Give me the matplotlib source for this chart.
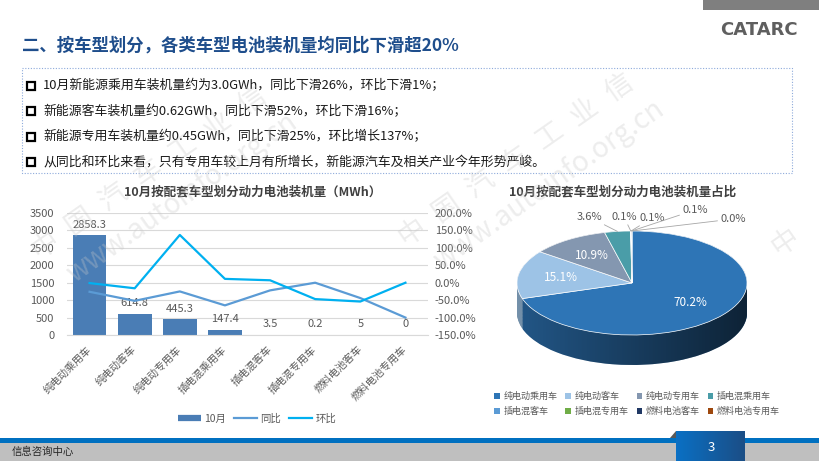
import numpy as np
import matplotlib
matplotlib.use('Agg')
import matplotlib.pyplot as plt
from matplotlib.patches import Rectangle, Polygon, Patch, PathPatch
from matplotlib.lines import Line2D
from matplotlib.path import Path
from matplotlib.colors import to_rgb

plt.rcParams['font.family'] = ['Noto Sans CJK SC', 'DejaVu Sans']

W, H = 820, 461

# data
categories = ['纯电动乘用车', '纯电动客车', '纯电动专用车', '插电混乘用车',
              '插电混客车', '插电混专用车', '燃料电池客车', '燃料电池专用车']
volume = [2858.3, 614.8, 445.3, 147.4, 3.5, 0.2, 5, 0]
volume_labels = ['2858.3', '614.8', '445.3', '147.4', '3.5', '0.2', '5', '0']
yoy = [-26, -52, -25, -65, -22, 0, -44, -100]
mom = [-1, -16, 137, 11, 7, -47, -54, 0]
share_labels = ['70.2%', '15.1%', '10.9%', '3.6%', '0.1%', '0.1%', '0.1%', '0.0%']
pie_colors = ['#2E75B6', '#9DC3E6', '#8497B0', '#4A9DA8',
              '#5B9BD5', '#70AD47', '#203864', '#9E480E']

title = '二、按车型划分，各类车型电池装机量均同比下滑超20%'
bullets = ['10月新能源乘用车装机量约为3.0GWh，同比下滑26%，环比下滑1%；',
           '新能源客车装机量约0.62GWh，同比下滑52%，环比下滑16%；',
           '新能源专用车装机量约0.45GWh，同比下滑25%，环比增长137%；',
           '从同比和环比来看，只有专用车较上月有所增长，新能源汽车及相关产业今年形势严峻。']

GRAY = '#595959'
BAR = '#4A7DB5'


def box(x0, y0, x1, y1):
    return [x0 / W, 1 - y1 / H, (x1 - x0) / W, (y1 - y0) / H]


def darken(c, f):
    r, g, b = to_rgb(c)
    return (r * f, g * f, b * f)


fig = plt.figure(figsize=(W / 100, H / 100), dpi=100)

bg = fig.add_axes([0, 0, 1, 1], zorder=0)
bg.set_xlim(0, W)
bg.set_ylim(H, 0)
bg.axis('off')

# header
bg.add_patch(Rectangle((703, 0), 117, 10, color='#7F7F7F', lw=0))
bg.text(759, 30, 'CATARC', family='DejaVu Sans', weight='bold', fontsize=13,
        color='#5F5F5F', ha='center', va='center')
bg.text(22, 46, title, fontsize=12.5, weight='bold', color='#1F4E8C', va='center')

# bullet box
bg.add_patch(Rectangle((22, 68), 770, 105, fill=False, ec='#8EAADB',
                       ls=(0, (1, 1.5)), lw=0.8))
for i, t in enumerate(bullets):
    y = 86 + i * 25.3
    bg.add_patch(Rectangle((27, y - 4), 8, 8, fill=False, ec='black', lw=1.6))
    bg.text(43, y, t, fontsize=9.3, color='#1a1a1a', va='center')

# footer
bg.add_patch(Rectangle((0, 443), W, 18, color='#BFBFBF', lw=0))
bg.add_patch(Rectangle((0, 438), W, 5, color='#0070C0', lw=0))
grad = np.zeros((1, 64, 3))
c0, c1 = np.array(to_rgb('#0A70C4')), np.array(to_rgb('#1B4E86'))
for k in range(64):
    grad[0, k] = c0 + (c1 - c0) * k / 63
bg.imshow(grad, extent=(676, 745, 461, 431), aspect='auto', zorder=2)
bg.add_patch(Polygon([(670, 438), (676, 431), (676, 438)], color='#595959', lw=0, zorder=2))
bg.text(711, 447, '3', color='white', fontsize=9.5, ha='center', va='center', zorder=3)
bg.text(12, 452, '信息咨询中心', fontsize=7.5, color='#262626', va='center')
bg.set_xlim(0, W)
bg.set_ylim(H, 0)

# left chart: bars + lines
ax = fig.add_axes(box(67, 213, 428, 335), zorder=1)
x = np.arange(len(categories))
ax.bar(x, volume, width=0.75, color=BAR, zorder=2)
for i, (v, l) in enumerate(zip(volume, volume_labels)):
    ax.annotate(l, (i, v), xytext=(0, 4), textcoords='offset points',
                ha='center', va='bottom', fontsize=8, color=GRAY, zorder=3)
ax.set_xlim(-0.5, len(categories) - 0.5)
ax.set_ylim(0, 3500)
ax.set_yticks(range(0, 3501, 500))
ax.yaxis.grid(True, color='#D9D9D9', lw=0.8)
ax.set_axisbelow(True)
for s in ['top', 'left', 'right']:
    ax.spines[s].set_visible(False)
ax.spines['bottom'].set_color('#D9D9D9')
ax.tick_params(axis='y', length=0, pad=9, labelsize=8, labelcolor=GRAY)
ax.tick_params(axis='x', length=0, pad=9)
ax.set_xticks(x)
ax.set_xticklabels(categories, rotation=45, ha='right', va='center',
                   rotation_mode='anchor', fontsize=7.5, color=GRAY)

ax2 = ax.twinx()
ax2.plot(x, yoy, color='#5B9BD5', lw=1.6)
ax2.plot(x, mom, color='#00B0F0', lw=1.6)
ax2.set_ylim(-150, 200)
ax2.set_yticks(range(-150, 201, 50))
ax2.set_yticklabels([f'{v:.1f}%' for v in range(-150, 201, 50)])
ax2.tick_params(axis='y', length=0, pad=5, labelsize=8, labelcolor=GRAY)
for s in ax2.spines.values():
    s.set_visible(False)

fig.text(253 / W, 1 - 192 / H, '10月按配套车型划分动力电池装机量（MWh）',
         ha='center', va='center', fontsize=9, weight='bold', color='#404040')

handles = [Line2D([0], [0], color=BAR, lw=4.5, solid_capstyle='butt'),
           Line2D([0], [0], color='#5B9BD5', lw=1.6),
           Line2D([0], [0], color='#00B0F0', lw=1.6)]
fig.legend(handles, ['10月', '同比', '环比'], loc='center',
           bbox_to_anchor=(257 / W, 1 - 419 / H), ncol=3, frameon=False,
           fontsize=7.5, labelcolor=GRAY, handlelength=2.2,
           columnspacing=0.8, handletextpad=0.3)

# right chart: 3d-looking pie
cx, cy, rx, ry, depth = 632, 283, 115, 52, 30
d = depth / ry
pax = fig.add_axes(box(cx - rx, cy - ry, cx + rx, cy + ry + depth), zorder=1)
side_colors = [darken(c, 0.78) for c in pie_colors]
for t in np.linspace(d, 0, 40):
    pax.pie(volume, colors=side_colors, startangle=90, counterclock=False,
            center=(0, -t), wedgeprops=dict(linewidth=0, zorder=1))

th = np.linspace(np.pi, 2 * np.pi, 100)
sx = np.concatenate([np.cos(th), np.cos(th[::-1])])
sy = np.concatenate([np.sin(th), np.sin(th[::-1]) - d])
side = PathPatch(Path(np.column_stack([sx, sy])), fc='none', ec='none')
pax.add_patch(side)
shade = np.zeros((1, 256, 4))
shade[0, :, 3] = np.linspace(0.05, 0.62, 256)
im = pax.imshow(shade, extent=(-1, 1, -1 - d, 0), aspect='auto', zorder=1.5)
im.set_clip_path(side)

pax.pie(volume, colors=pie_colors, startangle=90, counterclock=False,
        wedgeprops=dict(edgecolor='white', linewidth=0.5, zorder=2))
pax.set_aspect('auto')
pax.set_xlim(-1, 1)
pax.set_ylim(-1 - d, 1)
pax.axis('off')

fr = np.array(volume) / sum(volume)
cum = np.concatenate([[0], np.cumsum(fr)])
mids = np.radians(90 - 360 * (cum[:-1] + cum[1:]) / 2)
for i in range(3):
    pax.text(0.63 * np.cos(mids[i]), 0.63 * np.sin(mids[i]), share_labels[i],
             color='white', fontsize=8.5, ha='center', va='center', zorder=5)
outer_pos = [(589, 217), (624, 217), (652, 218), (695, 210), (733, 219)]
for i, (lx, ly) in zip(range(3, 8), outer_pos):
    pax.annotate(share_labels[i], xy=(np.cos(mids[i]), np.sin(mids[i])),
                 xytext=(lx, H - ly), textcoords='figure pixels',
                 ha='center', va='center', fontsize=8, color=GRAY,
                 annotation_clip=False, zorder=5,
                 arrowprops=dict(arrowstyle='-', color='#A6A6A6', lw=0.6,
                                 shrinkA=0, shrinkB=0))

fig.text(623 / W, 1 - 192 / H, '10月按配套车型划分动力电池装机量占比',
         ha='center', va='center', fontsize=9, weight='bold', color='#404040')

order = [0, 4, 1, 5, 2, 6, 3, 7]
fig.legend([Patch(fc=pie_colors[i]) for i in order],
           [categories[i] for i in order], loc='center',
           bbox_to_anchor=(637 / W, 1 - 404 / H), ncol=4, frameon=False,
           fontsize=6.5, labelcolor=GRAY, handlelength=0.6, handleheight=0.6,
           handletextpad=0.4, columnspacing=0.9, labelspacing=0.6)

# faint site watermark
wm = fig.add_axes([0, 0, 1, 1], zorder=10)
wm.patch.set_alpha(0)
wm.set_xlim(0, W)
wm.set_ylim(H, 0)
wm.axis('off')
ang = 35
ca, sa = np.cos(np.radians(ang)), np.sin(np.radians(ang))
for x0, y0 in [(45, 245), (412, 232), (785, 242)]:
    for k, ch in enumerate('中国汽车工业信息网'):
        px, py = x0 + k * 42 * ca, y0 - k * 42 * sa
        if px > W - 20 or py < 80:
            continue
        wm.text(px, py, ch, fontsize=20, rotation=ang,
                color='#C8C8C8', alpha=0.32, ha='center', va='center')
    if x0 < 600:
        wm.text(x0 + 25, y0 + 32, 'www.autoinfo.org.cn', fontsize=20, rotation=ang,
                rotation_mode='anchor', color='#C8C8C8', alpha=0.32,
                ha='left', va='center')

fig.savefig('out.png', dpi=100)
